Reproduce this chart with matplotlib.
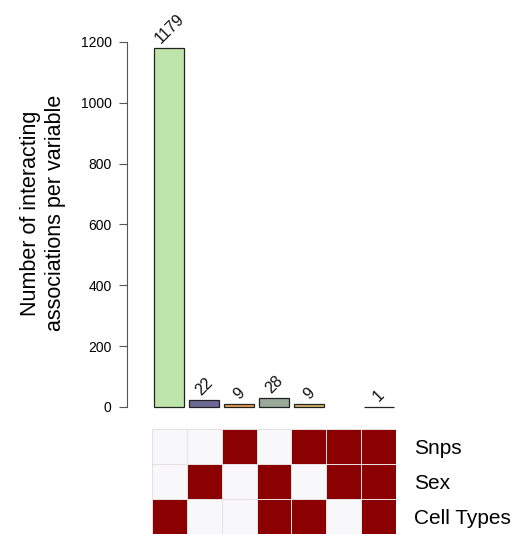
import matplotlib
matplotlib.use("Agg")
import matplotlib.pyplot as plt
import numpy as np
from matplotlib.colors import ListedColormap

plt.rcParams['font.family'] = ['Liberation Sans', 'DejaVu Sans']

# Interaction sets (columns of the matrix) and their counts
counts = [1179, 22, 9, 28, 9, 0, 1]
bar_colors = ['#BDE5AB', '#6E6A98', '#ECA452', '#9AAA9A', '#D9B866', '#B0B0B0', '#404040']
variables = ['Snps', 'Sex', 'Cell Types']
# membership[row][col]: 1 if the variable is part of the interaction set
membership = [
    [0, 0, 1, 0, 1, 1, 1],  # Snps
    [0, 1, 0, 1, 0, 1, 1],  # Sex
    [1, 0, 0, 1, 1, 0, 1],  # Cell Types
]
y_ticks = [0, 200, 400, 600, 800, 1000, 1200]

W, H = 517, 534
fig = plt.figure(figsize=(W / 100, H / 100), dpi=100)

x0, x1 = 152, 396
ax = fig.add_axes([x0 / W, 1 - 407 / H, (x1 - x0) / W, (407 - 42) / H])
n = len(counts)
xs = np.arange(n)
bars = ax.bar(xs, counts, width=0.86, color=bar_colors, edgecolor='#222222', linewidth=0.9)
for b, c in zip(bars, counts):
    b.set_clip_on(False)
    if c == 0:
        b.set_visible(False)
for x, c in zip(xs, counts):
    if c > 0:
        ax.text(x, c + 8, str(c), rotation=45, ha='center', va='bottom',
                fontsize=11.5, color='#111111', clip_on=False)
ax.set_xlim(-0.5, n - 0.5)
ax.set_ylim(0, 1200)
ax.set_yticks(y_ticks)
ax.set_yticklabels([str(t) for t in y_ticks], fontsize=12)
ax.set_xticks([])
for s in ['top', 'right', 'bottom']:
    ax.spines[s].set_visible(False)
ax.spines['left'].set_position(('outward', 18))
ax.spines['left'].set_bounds(0, 1200)
ax.spines['left'].set_color('#555555')
ax.spines['left'].set_linewidth(0.8)
ax.tick_params(axis='y', length=6, width=0.8, color='#555555', pad=5)
fig.text(43 / W, 1 - 213 / H, 'Number of interacting\nassociations per variable',
         rotation=90, ha='center', va='center', fontsize=15.5,
         linespacing=1.2)

# Membership matrix
axm = fig.add_axes([x0 / W, 0, (x1 - x0) / W, (534 - 429) / H])
cmap = ListedColormap(['#F8F8FA', '#8B0000'])
M = np.array(membership)
axm.pcolormesh(np.arange(n + 1) - 0.5, np.arange(len(variables) + 1) - 0.5, M,
               cmap=cmap, vmin=0, vmax=1, edgecolors='#E6E0E0', linewidth=0.4)
axm.set_xlim(-0.5, n - 0.5)
axm.set_ylim(len(variables) - 0.5, -0.5)
axm.set_xticks([])
axm.set_yticks(range(len(variables)))
axm.set_yticklabels(variables, fontsize=15)
axm.yaxis.tick_right()
axm.tick_params(axis='y', length=0, pad=13)
for s in axm.spines.values():
    s.set_visible(False)

fig.savefig('out.png', dpi=100)
